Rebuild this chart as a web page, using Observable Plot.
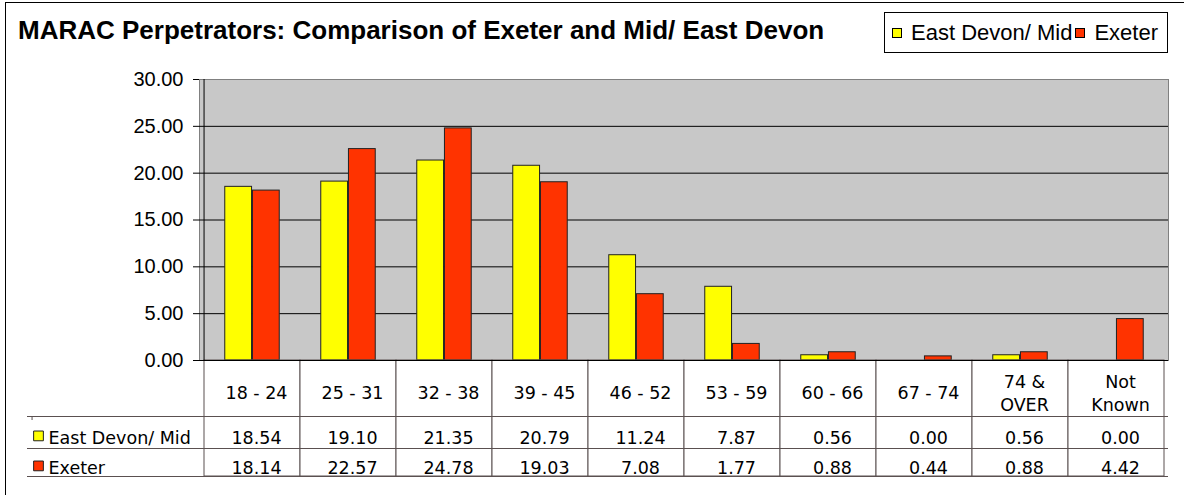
<!DOCTYPE html>
<html>
<head>
<meta charset="utf-8">
<script src="https://cdn.jsdelivr.net/npm/d3@7"></script>
<script src="https://cdn.jsdelivr.net/npm/@observablehq/plot@0.6"></script>
<style>
  body { margin: 0; background: #fff; }
  #wrap { position: relative; width: 1184px; height: 495px; overflow: hidden; background: #fff; }
  #outer { position: absolute; left: 5px; top: 2px; width: 1400px; height: 700px; border: 1px solid #000; pointer-events: none; }
  #header { position: relative; height: 60px; }
  #title { position: absolute; left: 18px; top: 15px; font: bold 26px "Liberation Sans", Arial, sans-serif; color: #000; white-space: nowrap; }
  #legend { position: absolute; left: 884px; top: 12px; width: 284px; height: 41px; border: 1px solid #000; box-sizing: border-box;
            display: flex; align-items: center; padding-left: 7px; font: 22px "Liberation Sans", Arial, sans-serif; white-space: nowrap; color: #000; }
  .sw { display: inline-block; width: 8px; height: 8px; border: 1px solid #000; margin-right: 9px; }
  .item { display: inline-flex; align-items: center; }
  .item + .item { margin-left: 3px; }
  #chart svg { display: block; }
</style>
</head>
<body>
<div id="wrap">
  <div id="header">
    <div id="title"></div>
    <div id="legend"></div>
  </div>
  <div id="chart"></div>
  <div id="outer"></div>
</div>
<script>
// ---- data ----
const titleText = "MARAC Perpetrators: Comparison of Exeter and Mid/ East Devon";
const categories = ["18 - 24", "25 - 31", "32 - 38", "39 - 45", "46 - 52", "53 - 59", "60 - 66", "67 - 74", "74 & OVER", "Not Known"];
const categoryLabels = ["18 - 24", "25 - 31", "32 - 38", "39 - 45", "46 - 52", "53 - 59", "60 - 66", "67 - 74", "74 &\nOVER", "Not\nKnown"];
const seriesNames = ["East Devon/ Mid", "Exeter"];
const eastDevonMid = [18.54, 19.10, 21.35, 20.79, 11.24, 7.87, 0.56, 0.00, 0.56, 0.00];
const exeter = [18.14, 22.57, 24.78, 19.03, 7.08, 1.77, 0.88, 0.44, 0.88, 4.42];
const seriesColors = ["#ffff00", "#ff3300"];
const yTicks = [0, 5, 10, 15, 20, 25, 30];

// ---- title & legend ----
document.getElementById("title").textContent = titleText;
const legend = document.getElementById("legend");
seriesNames.forEach((name, s) => {
  const it = document.createElement("span");
  it.className = "item";
  const sw = document.createElement("span");
  sw.className = "sw";
  sw.style.background = seriesColors[s];
  it.appendChild(sw);
  it.appendChild(document.createTextNode(name));
  legend.appendChild(it);
});

// ---- layout ----
const W = 1184, svgH = 435;
const mL = 199, mR = 16, mT = 19, mB = 135;
const plotH = svgH - mT - mB;
const bw = (W - mL - mR) / categories.length;
const barW = bw / 3.5, outerGap = barW * 0.75;
const rowH = [56, 32, 28];
const tableH = rowH[0] + rowH[1] + rowH[2];
const tableLine = "#5a5050";
const tableFont = "DejaVu Sans, Verdana, sans-serif";
const tableSize = 17.5;
const seriesValues = [eastDevonMid, exeter];

const marks = [
  Plot.frame({fill: "#c8c8c8", stroke: "#808080"}),
  Plot.ruleY(yTicks.filter(t => t > 0 && t < 30), {stroke: "#000", strokeWidth: 1}),
];
seriesValues.forEach((vals, s) => {
  marks.push(Plot.barY(vals, {
    x: (d, i) => categories[i], y: d => d,
    fill: seriesColors[s], stroke: "#222", strokeWidth: 1,
    insetLeft: s === 0 ? outerGap : outerGap + barW,
    insetRight: s === 0 ? outerGap + barW : outerGap
  }));
});
// table columns
marks.push(Plot.cell(categories, {x: d => d, fill: "white", stroke: tableLine, insetTop: plotH, insetBottom: -tableH}));
// row lines extending to header column
[rowH[0], rowH[0] + rowH[1], tableH].forEach(off => {
  marks.push(Plot.ruleY([0], {dy: off, insetLeft: -(mL - 27), stroke: tableLine}));
});
marks.push(Plot.ruleX([categories[0]], {x: d => d, dx: -bw / 2 - (mL - 27), insetTop: plotH + rowH[0], insetBottom: -(rowH[1] + rowH[2]), stroke: tableLine}));
// axes lines
marks.push(Plot.ruleY([0], {stroke: "#000"}));
marks.push(Plot.ruleX([categories[0]], {x: d => d, dx: -bw / 2, stroke: "#000"}));
marks.push(Plot.axisY(yTicks, {tickFormat: d => d.toFixed(2), fontSize: 20, tickSize: 6, tickPadding: 10, label: null, stroke: "#000", fill: "#000"}));
// category row text
marks.push(Plot.text(categories, {x: d => d, text: (d, i) => categoryLabels[i], frameAnchor: "bottom", lineAnchor: "middle", dy: 31.4, dx: 4,
  fontSize: tableSize, fontFamily: tableFont, lineHeight: 1.3, fill: "#000"}));
// data rows
const rowCenters = [77.4, 107.4];
seriesValues.forEach((vals, s) => {
  marks.push(Plot.text(vals, {x: (d, i) => categories[i], text: d => d.toFixed(2), frameAnchor: "bottom", lineAnchor: "middle", dy: rowCenters[s], dx: 4,
    fontSize: tableSize, fontFamily: tableFont, fill: "#000"}));
  marks.push(Plot.text([seriesNames[s]], {frameAnchor: "bottom-left", lineAnchor: "middle", text: d => d, dx: 48 - mL, dy: rowCenters[s], textAnchor: "start",
    fontSize: tableSize, fontFamily: tableFont, fill: "#000"}));
  marks.push(Plot.dot([seriesNames[s]], {frameAnchor: "bottom-left", dx: 38 - mL, dy: rowCenters[s] - 2, symbol: "square", r: 5.5,
    fill: seriesColors[s], stroke: "#222", strokeWidth: 1}));
});

const chart = Plot.plot({
  width: W, height: svgH,
  marginLeft: mL, marginRight: mR, marginTop: mT, marginBottom: mB,
  style: {fontFamily: "Liberation Sans, Arial, sans-serif", background: "transparent", overflow: "visible"},
  x: {domain: categories, padding: 0, axis: null},
  y: {domain: [0, 30], axis: null},
  marks
});
document.getElementById("chart").appendChild(chart);
</script>
</body>
</html>
